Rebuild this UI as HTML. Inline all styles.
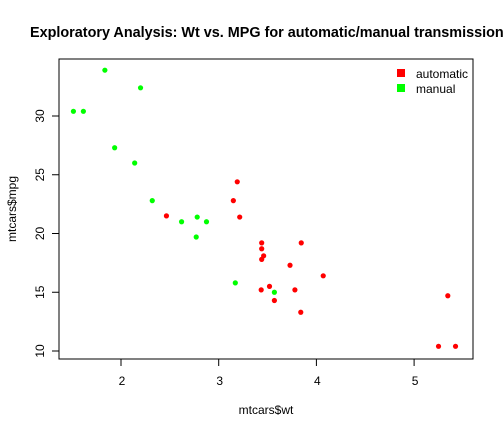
<!DOCTYPE html>
<html><head><meta charset="utf-8"><style>
body{margin:0;background:#fff;}
svg{display:block;font-family:"Liberation Sans",Arial,sans-serif;}
</style></head><body>
<svg id="chart" width="504" height="432" viewBox="0 0 504 432">
<rect width="504" height="432" fill="#fff"/>
<text x="30" y="37" text-anchor="start" font-size="14.4" font-weight="bold">Exploratory Analysis: Wt vs. MPG for automatic/manual transmission</text>
<rect x="59" y="59" width="414" height="300" fill="none" stroke="#000" stroke-width="1"/>
<g id="xaxis"></g>
<g id="yaxis"></g>
<text x="266" y="414" text-anchor="middle" font-size="12">mtcars$wt</text>
<text transform="translate(16,209) rotate(-90)" text-anchor="middle" font-size="12">mtcars$mpg</text>
<g id="points"></g>
<g>
<rect x="397" y="69" width="8" height="8" fill="#ff0000"/>
<text x="416" y="78" font-size="12">automatic</text>
<rect x="397" y="84" width="8" height="8" fill="#00ff00"/>
<text x="416" y="93" font-size="12">manual</text>
</g>
</svg>
<script>
const wt=[2.620,2.875,2.320,3.215,3.440,3.460,3.570,3.190,3.150,3.440,3.440,4.070,3.730,3.780,5.250,5.424,5.345,2.200,1.615,1.835,2.465,3.520,3.435,3.840,3.845,1.935,2.140,1.513,3.170,2.770,3.570,2.780];
const mpg=[21.0,21.0,22.8,21.4,18.7,18.1,14.3,24.4,22.8,19.2,17.8,16.4,17.3,15.2,10.4,10.4,14.7,32.4,30.4,33.9,21.5,15.5,15.2,13.3,19.2,27.3,26.0,30.4,15.8,19.7,15.0,21.4];
const am=[1,1,1,0,0,0,0,0,0,0,0,0,0,0,0,0,0,1,1,1,0,0,0,0,0,1,1,1,1,1,1,1];
const xTicks=[2,3,4,5];
const yTicks=[10,15,20,25,30];
const NS="http://www.w3.org/2000/svg";
function xs(v){return 121+(v-2)*97.7;}
function ys(v){return 351-(v-10)*11.75;}
function mk(t,a){const e=document.createElementNS(NS,t);for(const k in a)e.setAttribute(k,a[k]);return e;}
const xa=document.getElementById('xaxis'),ya=document.getElementById('yaxis'),pg=document.getElementById('points');
xa.appendChild(mk('line',{x1:xs(2),x2:xs(5),y1:359,y2:359,stroke:'#000'}));
xTicks.forEach(t=>{
  const l=mk('line',{x1:xs(t),x2:xs(t),y1:359,y2:366,stroke:'#000'});
  
  
  xa.appendChild(l);
  const tx=mk('text',{x:xs(t)+1,y:385,'text-anchor':'middle','font-size':12});
  
  
  tx.textContent=t;xa.appendChild(tx);
});
ya.appendChild(mk('line',{x1:59,x2:59,y1:ys(10),y2:ys(30),stroke:'#000'}));
yTicks.forEach(t=>{
  const l=mk('line',{x1:52,x2:59,y1:ys(t),y2:ys(t),stroke:'#000'});
  
  
  ya.appendChild(l);
  const tx=mk('text',{transform:`translate(44,${ys(t)}) rotate(-90)`,'text-anchor':'middle','font-size':12});
  
  
  tx.textContent=t;ya.appendChild(tx);
});
wt.forEach((w,i)=>{
  const c=mk('circle',{cx:xs(w),cy:ys(mpg[i]),r:2.6,fill:am[i]?'#00ff00':'#ff0000'});
  
  
  pg.appendChild(c);
});
</script>
</body></html>
